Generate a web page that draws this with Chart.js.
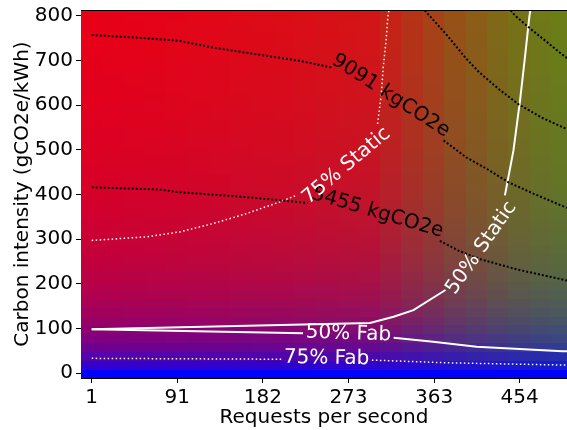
<!DOCTYPE html>
<html>
<head>
<meta charset="utf-8">
<script src="https://cdn.jsdelivr.net/npm/chart.js@4.4.0/dist/chart.umd.min.js"></script>
<style>
  html, body { margin: 0; padding: 0; background: #fff; }
</style>
</head>
<body>
<canvas id="chart" width="567" height="430"></canvas>
<script>
// heatmap grid
const rpsColumns = [1, 23.68, 46.36, 69.05, 91.73, 114.41, 137.09, 159.77, 182.45, 205.14, 227.82, 250.5,
  273.18, 295.86, 318.55, 341.23, 363.91, 386.59, 409.27, 431.95, 454.64, 477.32, 500];
const intensityRows = [0, 20, 40, 60, 80, 100, 120, 140, 160, 180, 200, 220, 240, 260, 280, 300, 320, 340,
  360, 380, 400, 420, 440, 460, 480, 500, 520, 540, 560, 580, 600, 620, 640, 660, 680, 700, 720, 740, 760, 780, 800];
// how far each column leans from red to green
const columnShare = [0, 0.005, 0.01, 0.015, 0.02, 0.025, 0.03, 0.04, 0.045, 0.05, 0.06, 0.07, 0.08, 0.09,
  0.15, 0.22, 0.28, 0.35, 0.40, 0.45, 0.49, 0.52, 0.54];

const xTickValues = [1, 91.73, 182.45, 273.18, 363.91, 454.64];
const xTickLabels = ['1', '91', '182', '273', '363', '454'];
const yTickValues = [0, 100, 200, 300, 400, 500, 600, 700, 800];

// contour lines (null = gap where the label sits)
const kg9091Rps = [1, 50, 94, 129, 172, 222, 256, null, 374, 398, 420, 443, 469, 499, 505];
const kg9091Ci  = [757, 751, 744, 729, 715, 699, 684, null, 521, 483, 457, 427, 402, 375, 370];
const kg5455Rps = [1, 73, 94, 165, 230, null, 370, 391, 413, 452, 499, 505];
const kg5455Ci  = [416, 411, 405, 394, 381, null, 296, 273, 255, 232, 210, 207];
const kgUpper1Rps = [354, 377, 398, 412, 433, 454, 478, 505];
const kgUpper1Ci  = [812, 758, 704, 673, 635, 601, 572, 546];
const kgUpper2Rps = [445, 450, 466, 482, 497, 505];
const kgUpper2Ci  = [812, 800, 771, 744, 718, 705];

const static75Rps = [1, 59, 94, 130, 165, 200, 218, null, 304, 308, 310, 313, 315, 316];
const static75Ci  = [297, 305, 316, 335, 357, 383, 398, null, 558, 625, 685, 744, 800, 812];
const static50Rps = [1, 296, 321, 342, 376, null, 439, 448, 455, 460, 465, 466];
const static50Ci  = [98, 112, 126, 141, 186, null, 398, 498, 610, 703, 800, 812];
const fab50Rps = [1, 225, null, 321, 363, 379, 409, 500, 505];
const fab50Ci  = [98, 89, null, 79, 70, 66, 59, 49, 49];
const fab75Rps = [1, 203, null, 298, 379, 500, 505];
const fab75Ci  = [33, 31, null, 29, 23, 18, 18];

const lineLabels = [
  { text: '9091 kgCO2e', rps: 318, ci: 621, angle: 33, color: '#000' },
  { text: '5455 kgCO2e', rps: 304, ci: 359, angle: 16.5, color: '#000' },
  { text: '75% Static', rps: 271, ci: 464, angle: -40, color: '#fff' },
  { text: '50% Static', rps: 414, ci: 280, angle: -55, color: '#fff' },
  { text: '50% Fab', rps: 273, ci: 88, angle: 2, color: '#fff' },
  { text: '75% Fab', rps: 250, ci: 33, angle: 1, color: '#fff' }
];

const font = { family: 'DejaVu Sans', size: 20 };

function pts(xs, ys) {
  return xs.map((x, i) => ({ x: x, y: ys[i] }));
}

function cellColor(ci, share) {
  const t = ci / (ci + 80);
  const r = Math.round(255 * t * (1 - share));
  const g = Math.round(255 * t * share);
  const b = Math.round(255 * (1 - t));
  return `rgb(${r},${g},${b})`;
}

const heatmap = {
  id: 'heatmap',
  beforeDatasetsDraw(chart) {
    const { ctx, chartArea, scales: { x, y } } = chart;
    ctx.save();
    ctx.beginPath();
    ctx.rect(chartArea.left, chartArea.top, chartArea.right - chartArea.left, chartArea.bottom - chartArea.top);
    ctx.clip();
    const hx = (rpsColumns[1] - rpsColumns[0]) / 2;
    const hy = (intensityRows[1] - intensityRows[0]) / 2;
    const last = intensityRows.length - 1;
    rpsColumns.forEach((rps, i) => {
      const x0 = Math.floor(x.getPixelForValue(rps - hx));
      const x1 = Math.ceil(x.getPixelForValue(rps + hx));
      intensityRows.forEach((ci, j) => {
        const y0 = j === last ? chartArea.top : Math.floor(y.getPixelForValue(ci + hy));
        const y1 = j === 0 ? chartArea.bottom : Math.ceil(y.getPixelForValue(ci - hy));
        ctx.fillStyle = cellColor(ci, columnShare[i]);
        ctx.fillRect(x0, y0, x1 - x0 + 1, y1 - y0 + 1);
      });
    });
    ctx.restore();
  },
  afterDatasetsDraw(chart) {
    const { ctx, chartArea, scales: { x, y } } = chart;
    ctx.save();
    ctx.font = '20px "DejaVu Sans"';
    ctx.textAlign = 'center';
    ctx.textBaseline = 'middle';
    lineLabels.forEach(l => {
      ctx.save();
      ctx.translate(x.getPixelForValue(l.rps), y.getPixelForValue(l.ci));
      ctx.rotate(l.angle * Math.PI / 180);
      ctx.fillStyle = l.color;
      ctx.fillText(l.text, 0, 0);
      ctx.restore();
    });
    ctx.strokeStyle = '#000';
    ctx.lineWidth = 1;
    ctx.beginPath();
    ctx.moveTo(chartArea.left, chartArea.top + 0.5);
    ctx.lineTo(chartArea.right, chartArea.top + 0.5);
    ctx.stroke();
    ctx.restore();
  }
};

function contour(xs, ys, color, width, dash) {
  return {
    data: pts(xs, ys),
    borderColor: color,
    borderWidth: width,
    borderDash: dash,
    pointRadius: 0,
    tension: 0,
    spanGaps: false,
    fill: false
  };
}

new Chart(document.getElementById('chart'), {
  type: 'line',
  data: {
    datasets: [
      contour(kg9091Rps, kg9091Ci, '#000', 2, [2, 2]),
      contour(kg5455Rps, kg5455Ci, '#000', 2, [2, 2]),
      contour(kgUpper1Rps, kgUpper1Ci, '#000', 2, [2, 2]),
      contour(kgUpper2Rps, kgUpper2Ci, '#000', 2, [2, 2]),
      contour(static75Rps, static75Ci, '#fff', 1.5, [1.5, 2.5]),
      contour(static50Rps, static50Ci, '#fff', 2, []),
      contour(fab50Rps, fab50Ci, '#fff', 2, []),
      contour(fab75Rps, fab75Ci, '#fff', 1.5, [1.5, 2.5])
    ]
  },
  options: {
    responsive: false,
    animation: false,
    layout: { padding: { top: 10, right: 0, bottom: 0, left: 0 } },
    plugins: { legend: { display: false }, tooltip: { enabled: false } },
    scales: {
      x: {
        type: 'linear',
        min: -10.34,
        max: 504.8,
        afterBuildTicks: s => { s.ticks = xTickValues.map(v => ({ value: v })); },
        afterFit: s => { s.height = 52; s.paddingLeft = 0; s.paddingRight = 0; },
        ticks: { callback: (v, i) => xTickLabels[i], font: font, color: '#000', maxRotation: 0, autoSkip: false, padding: 3 },
        grid: { display: true, drawOnChartArea: false, drawTicks: true, tickLength: 5, color: '#000' },
        border: { display: true, color: '#000' },
        title: { display: true, text: 'Requests per second', font: font, color: '#000', padding: { top: 0, bottom: 0 } }
      },
      y: {
        type: 'linear',
        min: -11,
        max: 813,
        afterBuildTicks: s => { s.ticks = yTickValues.map(v => ({ value: v })); },
        afterFit: s => { s.width = 81; s.paddingTop = 0; s.paddingBottom = 0; },
        ticks: { font: font, color: '#000', padding: 3 },
        grid: { display: true, drawOnChartArea: false, drawTicks: true, tickLength: 5, color: '#000' },
        border: { display: true, color: '#000' },
        title: { display: true, text: 'Carbon intensity (gCO2e/kWh)', font: font, color: '#000', padding: { top: 11, bottom: 0 } }
      }
    }
  },
  plugins: [heatmap]
});
</script>
</body>
</html>
